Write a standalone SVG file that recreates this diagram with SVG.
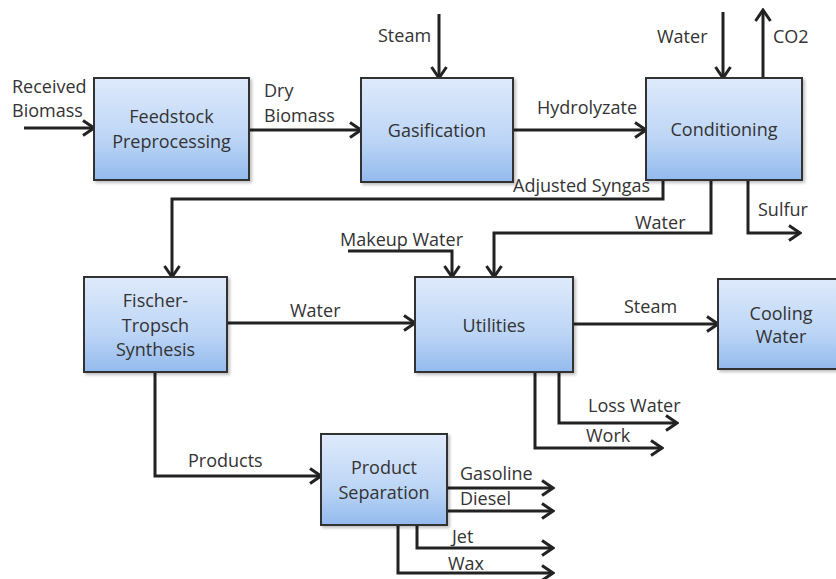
<svg xmlns="http://www.w3.org/2000/svg" width="836" height="579" viewBox="0 0 836 579">
<defs>
<linearGradient id="g" x1="0" y1="0" x2="0" y2="1">
<stop offset="0" stop-color="#dfeafb"/>
<stop offset="0.6" stop-color="#bcd5f6"/>
<stop offset="1" stop-color="#93baed"/>
</linearGradient>
<filter id="sh" x="-10%" y="-10%" width="130%" height="130%">
<feDropShadow dx="2" dy="2" stdDeviation="1.5" flood-color="#000" flood-opacity="0.25"/>
</filter>
<marker id="ah" viewBox="0 0 14 18" refX="12" refY="9" markerWidth="14" markerHeight="18" markerUnits="userSpaceOnUse" orient="auto">
<path d="M1,1.5 L12,9 L1,16.5" fill="none" stroke="#222" stroke-width="3"/>
</marker>
</defs>
<style>
.box{fill:url(#g);stroke:#333;stroke-width:2;filter:url(#sh)}
.t{font-family:"Open Sans","Liberation Sans",sans-serif;font-size:18px;fill:#333}
.c{text-anchor:middle}
.ln{fill:none;stroke:#222;stroke-width:3;marker-end:url(#ah)}
.nm{fill:none;stroke:#222;stroke-width:3}
</style>
<rect width="836" height="579" fill="#fff"/>
<g id="connectors">
<path class="ln" d="M24,128 H94"/>
<path class="ln" d="M249,130 H361"/>
<path class="ln" d="M439,14 V78"/>
<path class="ln" d="M513,130 H646"/>
<path class="ln" d="M723,12 V78"/>
<path class="ln" d="M763,78 V10"/>
<path class="ln" d="M663,180 V199 H172 V277"/>
<path class="ln" d="M711,180 V233 H494 V277"/>
<path class="ln" d="M748,180 V233 H800"/>
<path class="ln" d="M348,251 H452 V277"/>
<path class="ln" d="M227,323 H415"/>
<path class="ln" d="M573,324 H718"/>
<path class="ln" d="M559,372 V423 H677"/>
<path class="ln" d="M535,372 V448 H662"/>
<path class="ln" d="M155,372 V476 H321"/>
<path class="ln" d="M447,488 H553"/>
<path class="ln" d="M447,511 H553"/>
<path class="ln" d="M417,525 V548 H553"/>
<path class="ln" d="M398,525 V573 H553"/>
</g>
<g id="labels" class="t">
<text x="12" y="93">Received</text>
<text x="12" y="117">Biomass</text>
<text x="264" y="97">Dry</text>
<text x="264" y="122">Biomass</text>
<text x="378" y="42">Steam</text>
<text x="537" y="114">Hydrolyzate</text>
<text x="657" y="43">Water</text>
<text x="773" y="43">CO2</text>
<text x="513" y="192">Adjusted Syngas</text>
<text x="635" y="229">Water</text>
<text x="758" y="216">Sulfur</text>
<text x="340" y="246">Makeup Water</text>
<text x="290" y="317">Water</text>
<text x="624" y="313">Steam</text>
<text x="588" y="412">Loss Water</text>
<text x="586" y="442">Work</text>
<text x="188" y="467">Products</text>
<text x="460" y="480">Gasoline</text>
<text x="460" y="505">Diesel</text>
<text x="452" y="543">Jet</text>
<text x="448" y="570">Wax</text>
</g>
<g id="feedstock">
<rect class="box" x="94" y="78" width="155" height="102"/>
<text class="t c" x="171.5" y="123">Feedstock</text>
<text class="t c" x="171.5" y="148">Preprocessing</text>
</g>
<g id="gasification">
<rect class="box" x="361" y="78" width="152" height="104"/>
<text class="t c" x="437" y="137">Gasification</text>
</g>
<g id="conditioning">
<rect class="box" x="646" y="78" width="156" height="102"/>
<text class="t c" x="724" y="136">Conditioning</text>
</g>
<g id="fischer-tropsch">
<rect class="box" x="84" y="277" width="143" height="95"/>
<text class="t c" x="155.5" y="307">Fischer-</text>
<text class="t c" x="155.5" y="332">Tropsch</text>
<text class="t c" x="155.5" y="356">Synthesis</text>
</g>
<g id="utilities">
<rect class="box" x="415" y="277" width="158" height="95"/>
<text class="t c" x="494" y="332">Utilities</text>
</g>
<g id="cooling-water">
<rect class="box" x="718" y="279" width="130" height="90"/>
<text class="t c" x="781" y="320">Cooling</text>
<text class="t c" x="781" y="343">Water</text>
</g>
<g id="product-separation">
<rect class="box" x="321" y="434" width="126" height="91"/>
<text class="t c" x="384" y="474">Product</text>
<text class="t c" x="384" y="499">Separation</text>
</g>
</svg>
